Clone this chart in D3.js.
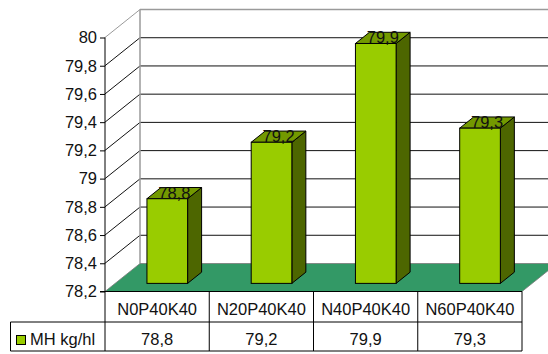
<!DOCTYPE html>
<html>
<head>
<meta charset="utf-8">
<script src="https://cdn.jsdelivr.net/npm/d3@7"></script>
<style>
  html, body { margin: 0; padding: 0; background: #fff; }
  svg { display: block; font-family: "Liberation Sans", Arial, sans-serif; }
</style>
</head>
<body>
<svg id="chart" width="548" height="354"></svg>
<script>
const categories = ["N0P40K40", "N20P40K40", "N40P40K40", "N60P40K40"];
const values = [78.8, 79.2, 79.9, 79.3];
const seriesName = "MH kg/hl";
const yTicks = [78.2, 78.4, 78.6, 78.8, 79, 79.2, 79.4, 79.6, 79.8, 80];

(function () {
const fmt = v => d3.format(".1~f")(v).replace(".", ",");

const svg = d3.select("#chart");
const W = 548, H = 354;

// plot geometry
const pLeft = 105, pRight = 522, pTop = 37.5, pBottom = 291.5;
const DX = 35, DY = -28;          // depth of the 3D box
const z0 = 0.29, z1 = 0.69;       // bar depth range (fraction of box depth)
const barFrac = 0.39;

const y = d3.scaleLinear().domain([78.2, 80]).range([pBottom, pTop]);
const x = d3.scaleBand().domain(categories).range([pLeft, pRight]).padding(0);

const gridColor = "#111";
const wallEdge = "#9a9a9a";

svg.append("defs").append("clipPath").attr("id", "clip")
  .append("rect").attr("x", 0).attr("y", 0).attr("width", W).attr("height", H);

const g = svg.append("g").attr("clip-path", "url(#clip)");

// back wall gridlines (horizontal)
g.selectAll("line.bgrid").data(yTicks.filter(t => t > 78.2)).join("line")
  .attr("class", "bgrid")
  .attr("x1", pLeft + DX).attr("x2", pRight + DX + 40)
  .attr("y1", d => y(d) + DY).attr("y2", d => y(d) + DY)
  .attr("stroke", d => d === 80 ? wallEdge : gridColor)
  .attr("stroke-width", d => d === 80 ? 1.5 : 1);

// side wall diagonal gridlines
g.selectAll("line.sgrid").data(yTicks.filter(t => t > 78.2)).join("line")
  .attr("class", "sgrid")
  .attr("x1", pLeft).attr("x2", pLeft + DX)
  .attr("y1", d => y(d)).attr("y2", d => y(d) + DY)
  .attr("stroke", d => d === 80 ? wallEdge : gridColor)
  .attr("stroke-width", 1);

// back wall left vertical edge
g.append("line")
  .attr("x1", pLeft + DX).attr("x2", pLeft + DX)
  .attr("y1", y(80) + DY).attr("y2", y(78.2) + DY)
  .attr("stroke", wallEdge).attr("stroke-width", 1.5);

// floor
const floorPts = [
  [pLeft, y(78.2)], [pRight, y(78.2)],
  [pRight + DX, y(78.2) + DY], [pLeft + DX, y(78.2) + DY]
];
g.append("polygon")
  .attr("points", floorPts.map(p => p.join(",")).join(" "))
  .attr("fill", "#339966")
  .attr("stroke", "#7a7a7a").attr("stroke-width", 0.8);

// bars
const bw = x.bandwidth() * barFrac;
const fx0 = z0 * DX, fy0 = z0 * DY, fx1 = z1 * DX, fy1 = z1 * DY;
const bars = g.selectAll("g.bar").data(values).join("g").attr("class", "bar");
bars.each(function(v, i) {
  const cx = x(categories[i]) + x.bandwidth() / 2;
  const xl = cx - bw / 2 + fx0, xr = cx + bw / 2 + fx0;
  const yt = y(v) + fy0, yb = y(78.2) + fy0;
  const ddx = fx1 - fx0, ddy = fy1 - fy0;
  const sel = d3.select(this);
  sel.append("polygon")
    .attr("points", [[xr, yt], [xr + ddx, yt + ddy], [xr + ddx, yb + ddy], [xr, yb]].map(p => p.join(",")).join(" "))
    .attr("fill", "#4d6600").attr("stroke", "#000").attr("stroke-width", 1).attr("stroke-linejoin", "round");
  sel.append("polygon")
    .attr("points", [[xl, yt], [xl + ddx, yt + ddy], [xr + ddx, yt + ddy], [xr, yt]].map(p => p.join(",")).join(" "))
    .attr("fill", "#739900").attr("stroke", "#000").attr("stroke-width", 1).attr("stroke-linejoin", "round");
  sel.append("rect")
    .attr("x", xl).attr("y", yt).attr("width", bw).attr("height", yb - yt)
    .attr("fill", "#99cc00").attr("stroke", "#000").attr("stroke-width", 1);
  sel.append("text")
    .attr("x", cx + (fx0 + fx1) / 2)
    .attr("y", y(v) + (fy0 + fy1) / 2 + 5.5)
    .attr("text-anchor", "middle")
    .attr("font-size", "16.5px")
    .attr("fill", "#111")
    .text(fmt(v));
});

// front y axis
const yAxis = d3.axisLeft(y).tickValues(yTicks).tickSize(5).tickPadding(3).tickFormat(fmt);
const ya = svg.append("g").attr("transform", `translate(${pLeft},0)`).call(yAxis);
ya.select(".domain").remove();
ya.selectAll(".tick line").attr("stroke", "#000");
ya.selectAll(".tick text").attr("font-size", "16.5px").attr("fill", "#111")
  .attr("font-family", '"Liberation Sans", Arial, sans-serif');
svg.append("line").attr("x1", pLeft).attr("x2", pLeft)
  .attr("y1", pTop).attr("y2", 351).attr("stroke", "#000");

// data table
const row1Top = pBottom, row1Bot = 322, row2Bot = 351, legendLeft = 10.5;
const tbl = svg.append("g").attr("stroke", "#000").attr("stroke-width", 1);
tbl.append("line").attr("x1", pLeft - 5).attr("x2", pRight).attr("y1", row1Top).attr("y2", row1Top);
tbl.append("line").attr("x1", legendLeft).attr("x2", pRight).attr("y1", row1Bot).attr("y2", row1Bot);
tbl.append("line").attr("x1", legendLeft).attr("x2", pRight).attr("y1", row2Bot).attr("y2", row2Bot);
tbl.append("line").attr("x1", legendLeft).attr("x2", legendLeft).attr("y1", row1Bot).attr("y2", row2Bot);
tbl.selectAll("line.col").data(categories).join("line").attr("class", "col")
  .attr("x1", d => x(d) + x.bandwidth()).attr("x2", d => x(d) + x.bandwidth())
  .attr("y1", row1Top).attr("y2", row2Bot);

svg.selectAll("text.cat").data(categories).join("text").attr("class", "cat")
  .attr("x", d => x(d) + x.bandwidth() / 2).attr("y", 314.5)
  .attr("text-anchor", "middle").attr("font-size", "16.5px").attr("fill", "#111").text(d => d);
svg.selectAll("text.val").data(values).join("text").attr("class", "val")
  .attr("x", (d, i) => x(categories[i]) + x.bandwidth() / 2).attr("y", 344.5)
  .attr("text-anchor", "middle").attr("font-size", "16.5px").attr("fill", "#111").text(d => fmt(d));

// legend in table
svg.append("rect").attr("x", 16.5).attr("y", 335.5).attr("width", 9).attr("height", 9)
  .attr("fill", "#99cc00").attr("stroke", "#000");
svg.append("text").attr("x", 30).attr("y", 344.5).attr("font-size", "16.5px").attr("fill", "#111").text(seriesName);
})();
</script>
</body>
</html>
